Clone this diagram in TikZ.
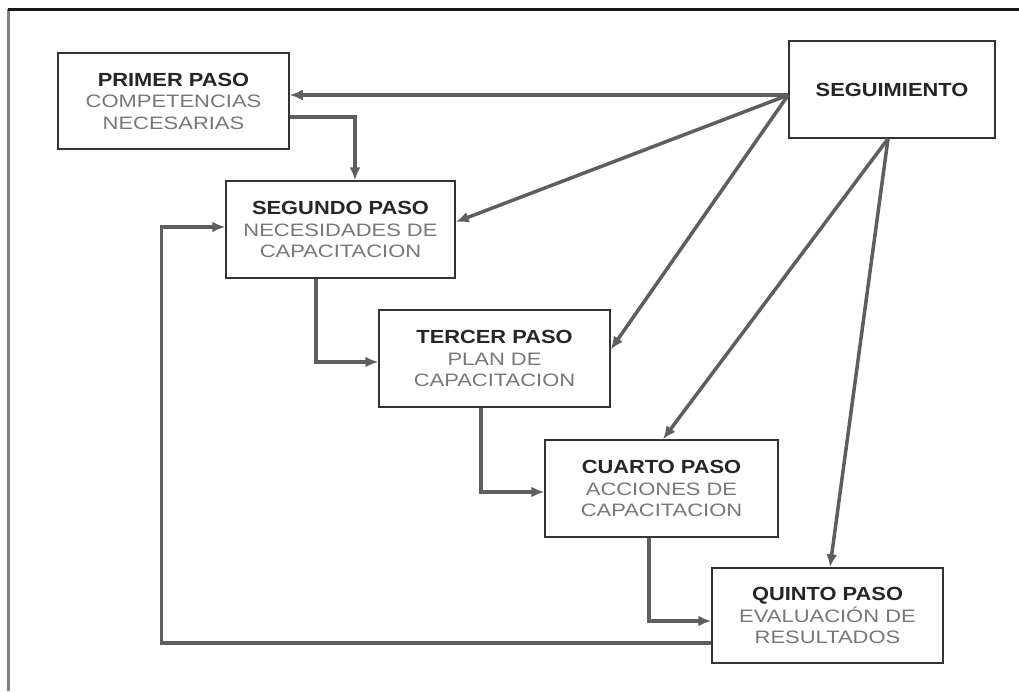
\documentclass[tikz,border=0pt]{standalone}
\usepackage{fontspec}
\setmainfont{Liberation Sans}
\newfontfamily\titfont{Liberation Sans}[FakeStretch=1.15]
\newfontfamily\subfont{Liberation Sans}[FakeStretch=1.22]
\usepackage{tikz}
\usetikzlibrary{arrows.meta}
\definecolor{gflecha}{HTML}{5E5E5E}
\definecolor{gtexto}{HTML}{777777}
\newcommand\tit[1]{{\titfont\bfseries\fontsize{19}{21.5}\selectfont\color{black!85}#1}}

\begin{document}
\begin{tikzpicture}[x=1pt,y=-1pt]
		\tikzset{caja/.style={draw=black!80,line width=1.5pt,fill=white,align=center,inner sep=0pt,text=gtexto,font=\subfont\fontsize{18}{21.5}\selectfont}}
		\tikzset{linea/.style={draw=gflecha,line width=3.5pt}}
		\tikzset{>={Latex[length=13pt,width=11pt]}}
		\useasboundingbox (0,0) rectangle (1019,691);
		\draw[line width=3pt,black!50] (8,9) -- (8,691);
		\draw[line width=3pt,black!90] (8,9) -- (1019,9);
		\node (1) at (173.5,101) [caja,minimum width=231,minimum height=96] {\tit{PRIMER PASO}\\COMPETENCIAS\\NECESARIAS};
		\node (2) at (340.5,229.5) [caja,minimum width=229,minimum height=97] {\tit{SEGUNDO PASO}\\NECESIDADES DE\\CAPACITACION};
		\node (3) at (494.5,358.5) [caja,minimum width=231,minimum height=97] {\tit{TERCER PASO}\\PLAN DE\\CAPACITACION};
		\node (4) at (661.5,488.5) [caja,minimum width=233,minimum height=97] {\tit{CUARTO PASO}\\ACCIONES DE\\CAPACITACION};
		\node (5) at (827.5,615.5) [caja,minimum width=231,minimum height=95] {\tit{QUINTO PASO}\\EVALUACIÓN DE\\RESULTADOS};
		\node (6) at (892,89.5) [caja,minimum width=206,minimum height=97] {\tit{SEGUIMIENTO}};
		\coordinate (s) at ([yshift=-5.5pt]6.west);
		\coordinate (t) at ([xshift=-4pt]6.south);
		
		\path
		(s)  edge [->, linea] (s -| 1.east)
		(s)  edge [->, linea] ([yshift=7.5pt]2.east)
		(s)  edge [->, linea] ([yshift=9pt]3.east)
		(t)  edge [->, linea] ([xshift=1.5pt]4.north)
		(t)  edge [->, linea] ([xshift=2.5pt]5.north);
		\draw [->, linea] ([yshift=-16pt]1.east) -| ([xshift=14.5pt]2.north);
		\draw [->, linea] ([xshift=-24.5pt]2.south) |- ([yshift=-3.5pt]3.west);
		\draw [->, linea] ([xshift=-13.5pt]3.south) |- ([yshift=-3.5pt]4.west);
		\draw [->, linea] ([xshift=-12.5pt]4.south) |- ([yshift=-5.5pt]5.west);
		\draw [->, linea] ([yshift=-27.5pt]5.west) -- ++(-550,0) |- ([yshift=2.5pt]2.west);
	\end{tikzpicture}
\end{document}
